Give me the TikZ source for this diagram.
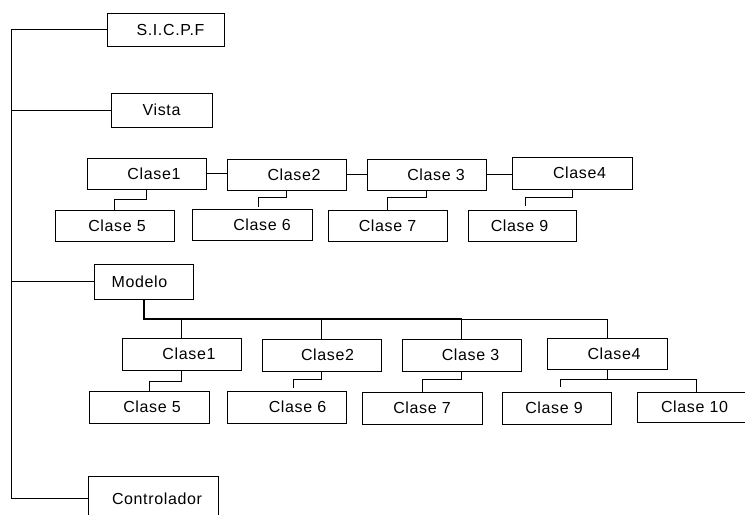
\documentclass[tikz,border=0pt]{standalone}
\usepackage{fontspec}
\setmainfont{Liberation Sans}[LetterSpace=4]
\usetikzlibrary{calc}

\begin{document}
\begin{tikzpicture}[x=0.75pt,y=0.75pt,yscale=-1,xscale=1,
  box/.style 2 args={draw, line width=0.75pt, inner sep=0pt, minimum width={#1*0.75pt}, minimum height={#2*0.75pt}, font=\fontsize{12}{14}\selectfont},
  txt/.style={execute at begin node={\hspace*{#1pt}}},
  link/.style={line width=0.75pt},
  bus/.style={line width=1.5pt}]
\useasboundingbox (0,0) rectangle (745,514);
%Shape: Rectangle (top level)
\node[box={117}{33}, txt=7.5] (sicpf) at (165.5,29.5) {S.I.C.P.F};
\node[box={101}{34}] (vista) at (161.5,110) {Vista};
\node[box={99}{35}, txt=-6] (modelo) at (143.5,281.5) {Modelo};
\node[box={130}{45}, txt=6] (ctrl) at (153,498.5) {Controlador};
%Shape: Rectangle (vista classes)
\node[box={119}{31}, txt=11.25] (a1) at (146.5,173.5) {Clase1};
\node[box={119}{31}, txt=11.25] (a2) at (286.5,174.5) {Clase2};
\node[box={119}{31}, txt=14.25] (a3) at (426.5,174.5) {Clase 3};
\node[box={120}{32}, txt=11.25] (a4) at (572,173) {Clase4};
\node[box={119}{31}, txt=3.75] (a5) at (114.5,225.5) {Clase 5};
\node[box={120}{31}, txt=15] (a6) at (252,224.5) {Clase 6};
\node[box={119}{31}] (a7) at (387.5,225.5) {Clase 7};
\node[box={108}{31}, txt=-3.75] (a9) at (522,225.5) {Clase 9};
%Shape: Rectangle (modelo classes)
\node[box={119}{32}, txt=11.25] (b1) at (181.5,354) {Clase1};
\node[box={119}{32}, txt=9] (b2) at (321.5,355) {Clase2};
\node[box={119}{32}, txt=13.5] (b3) at (461.5,355) {Clase 3};
\node[box={120}{31}, txt=10.5] (b4) at (607,353.5) {Clase4};
\node[box={120}{32}, txt=4.5] (b5) at (149,407) {Clase 5};
\node[box={119}{32}, txt=16.5] (b6) at (286.5,407) {Clase 6};
\node[box={120}{32}] (b7) at (422,408) {Clase 7};
\node[box={109}{32}, txt=-3.75] (b9) at (556.5,408) {Clase 9};
\node[box={119}{30}, txt=-3] (b10) at (696.5,407) {Clase 10};
%Straight Lines (trunk)
\coordinate (top) at (11,29.5);
\coordinate (bot) at (11,498.5);
\draw[link] (sicpf.west) -- (top) -- (bot) -- (ctrl.west);
\draw[link] (vista.west) -- (vista.west -| top);
\draw[link] (modelo.west) -- (modelo.west -| top);
%Straight Lines (vista)
\draw[link] (a1.east) -- (a1.east -| a2.west);
\draw[link] (a2.east) -- (a3.west);
\draw[link] (a3.east) -- (a3.east -| a4.west);
\draw[link] (a1.south) -- ++(0,10) -| (a5.north);
\draw[link] (a2.south) -- ++(0,7) -| ($(a6.north)+(6,-2)$);
\draw[link] (a3.south) -- ++(0,7) -| (a7.north);
\draw[link] (a4.south) -- ++(0,8) -| ($(a9.north)+(3,-4)$);
%Straight Lines (modelo)
\coordinate (bus) at (143.5,319);
\draw[bus] (modelo.south) -- (bus) -- (bus -| b3.north);
\draw[link] (bus -| b3.north) -- (bus -| b4.north) -- (b4.north);
\foreach \n in {b1,b2,b3}
  \draw[link] (bus -| \n.north) -- (\n.north);
\draw[link] (b1.south) -- ++(0,11) -| (b5.north);
\draw[link] (b2.south) -- ++(0,8) -| ($(b6.north)+(6.5,-3)$);
\draw[link] (b3.south) -- ++(0,8) -| (b7.north);
\draw[link] (b4.south) -- ++(0,10) coordinate (f4);
\draw[link] ($(b9.north)+(3.5,-5)$) |- (f4) -| (b10.north);
\end{tikzpicture}
\end{document}
